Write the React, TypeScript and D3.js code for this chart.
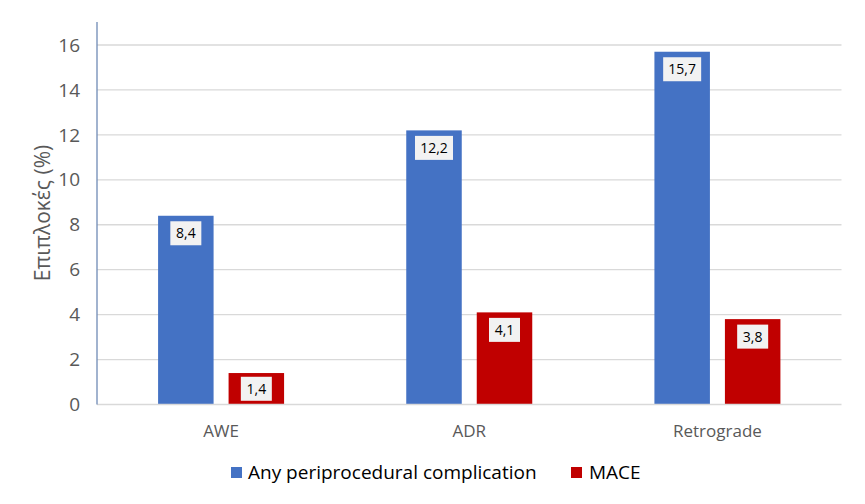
import React from "react";
import * as d3 from "d3";

const categories = ["AWE", "ADR", "Retrograde"];
const seriesNames = ["Any periprocedural complication", "MACE"];
const anyComplication = [8.4, 12.2, 15.7];
const mace = [1.4, 4.1, 3.8];
const yTicks = [0, 2, 4, 6, 8, 10, 12, 14, 16];
const colors = ["#4472C4", "#C00000"];

const W = 865;
const H = 504;
const FONT = "'Open Sans', sans-serif";

export default function App() {
  const left = 97;
  const right = 841.5;
  const top = 22;
  const y0 = 404.5;
  const y = d3.scaleLinear().domain([0, 16]).range([y0, 45]);
  const p = 1 - 126 / 248.17;
  const x0 = d3.scaleBand<string>().domain(categories).range([left, right]).paddingInner(p).paddingOuter(p / 2);
  const x1 = d3.scaleBand<string>().domain(seriesNames).range([0, x0.bandwidth()]).paddingInner(15 / 70.5);
  const values = [anyComplication, mace];
  const fmt = (v: number) => v.toFixed(1).replace(".", ",");

  return (
    <svg width={W} height={H} style={{ position: "absolute", left: 0, top: 0 }}>
      <rect x={0} y={0} width={W} height={H} fill="#fff" />
      {yTicks.map((t) => (
        <g key={t}>
          {t > 0 && <line x1={left} x2={right} y1={y(t)} y2={y(t)} stroke="#d9d9d9" strokeWidth={1.3} />}
          <text x={80} y={y(t)} dy="0.35em" textAnchor="end" fontFamily={FONT} fontSize={19} fill="#595959">
            {t}
          </text>
        </g>
      ))}
      {categories.map((c, ci) =>
        seriesNames.map((s, si) => {
          const v = values[si][ci];
          const bx = (x0(c) ?? 0) + (x1(s) ?? 0);
          const bw = x1.bandwidth();
          const by = y(v);
          const bh = y0 - by;
          const boxH = 24;
          const boxW = v >= 10 ? 38 : 31;
          const off = Math.min(5.5, (bh - boxH) / 2);
          const cx = bx + bw / 2;
          return (
            <g key={c + s}>
              <rect x={bx} y={by} width={bw} height={bh} fill={colors[si]} />
              <rect x={cx - boxW / 2} y={by + off} width={boxW} height={boxH} fill="#f2f2f2" />
              <text x={cx} y={by + off + boxH / 2} dy="0.36em" textAnchor="middle" fontFamily={FONT} fontSize={14} fill="#000">
                {fmt(v)}
              </text>
            </g>
          );
        })
      )}
      <line x1={left} x2={right} y1={y0} y2={y0} stroke="#d9d9d9" strokeWidth={1.3} />
      <line x1={left} x2={left} y1={top} y2={y0} stroke="#6f8ab5" strokeWidth={1.3} />
      {categories.map((c) => (
        <text key={c} x={(x0(c) ?? 0) + x0.bandwidth() / 2} y={431} dy="0.35em" textAnchor="middle" fontFamily={FONT} fontSize={17} fill="#595959">
          {c}
        </text>
      ))}
      <text transform={`translate(43, 213) rotate(-90)`} textAnchor="middle" dy="0.35em" fontFamily={FONT} fontSize={21} fill="#595959">
        Επιπλοκές (%)
      </text>
      <g>
        <rect x={231} y={467} width={11} height={11} fill={colors[0]} />
        <text x={248} y={472.5} dy="0.35em" fontFamily={FONT} fontSize={19} fill="#000">
          {seriesNames[0]}
        </text>
        <rect x={571} y={467} width={11} height={11} fill={colors[1]} />
        <text x={589} y={472.5} dy="0.35em" fontFamily={FONT} fontSize={19} fill="#000">
          {seriesNames[1]}
        </text>
      </g>
    </svg>
  );
}
